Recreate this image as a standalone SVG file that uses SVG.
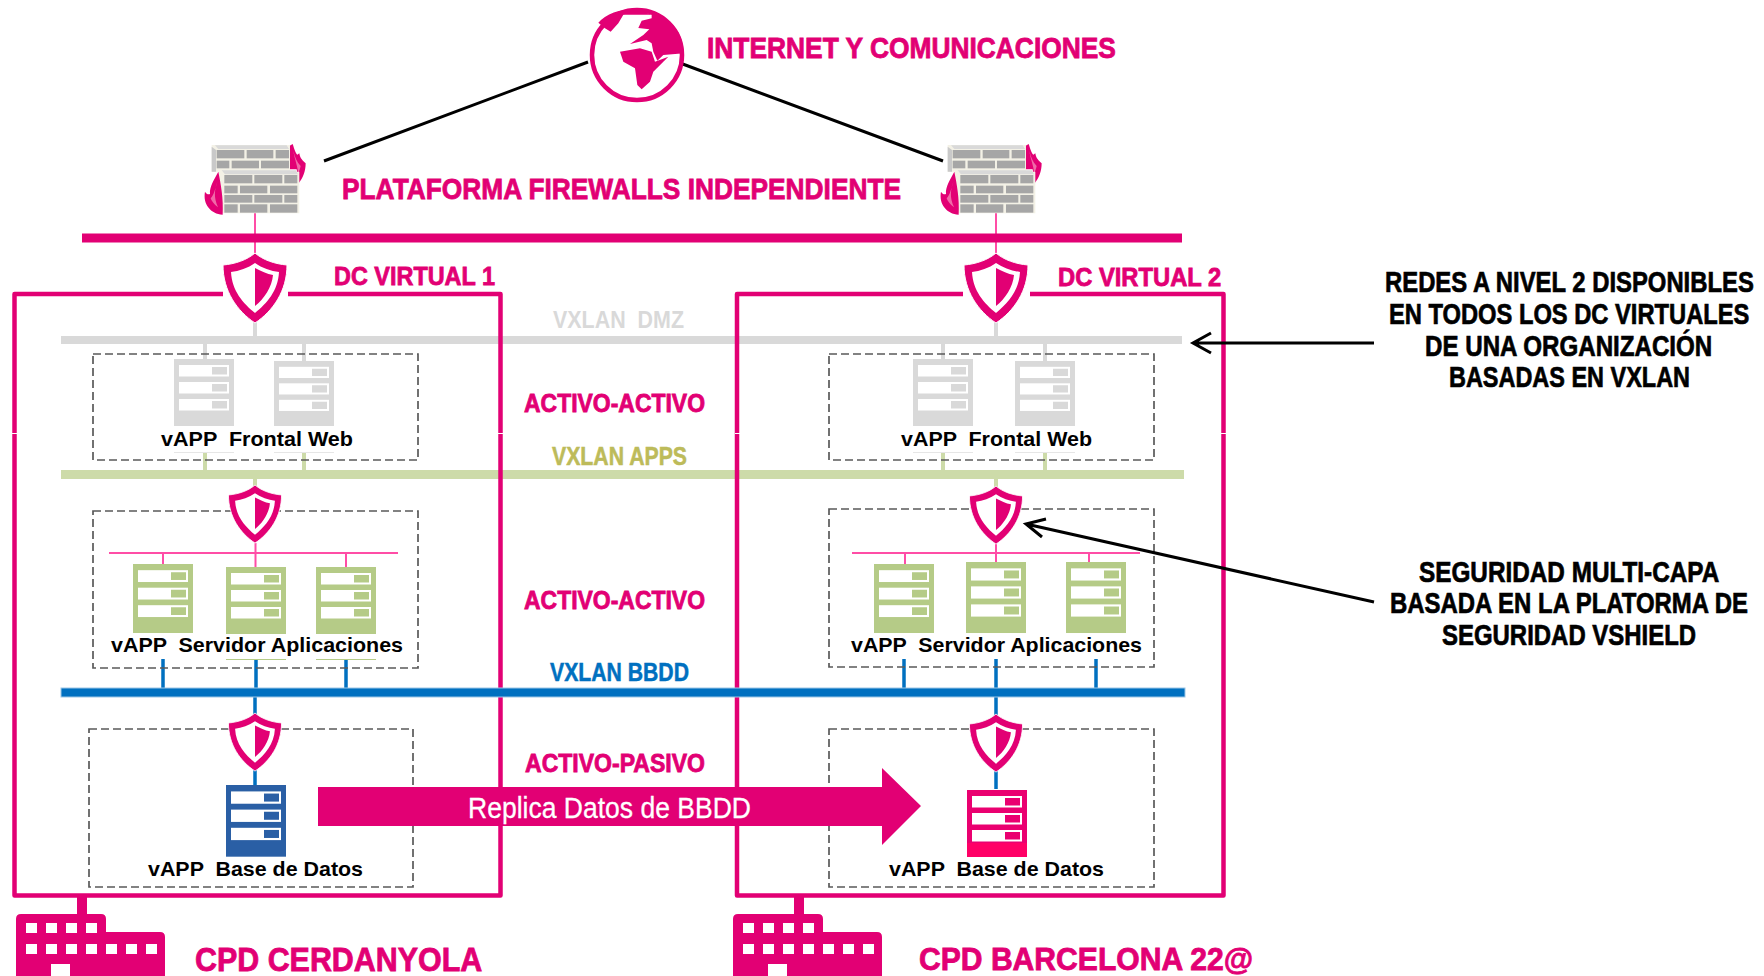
<svg xmlns="http://www.w3.org/2000/svg" width="1764" height="976" viewBox="0 0 1764 976">
<style>
text{font-family:"Liberation Sans",Arial,sans-serif;font-weight:700}
.m{fill:#e20074}
.mt{fill:#e20074;stroke:#e20074;stroke-width:.8}
.k{fill:#000;stroke:#000;stroke-width:.7}
.lab{font-size:21px;fill:#000}
.dash{fill:none;stroke:#595959;stroke-width:1.7;stroke-dasharray:8 4}
.dc{fill:none;stroke:#e20074;stroke-width:4.5;stroke-linejoin:round}
.blk{fill:none;stroke:#000;stroke-width:3}
.pk{stroke:#ff4da6;stroke-width:2;fill:none}
.gy{stroke:#d9d9d9;stroke-width:4;fill:none}
.gr{stroke:#cddba9;stroke-width:4;fill:none}
.bl{stroke:#0070c0;stroke-width:3.5;fill:none}
.br{fill:#a6a6a6}
</style>
<defs>
<g id="shield">
<path fill="#e20074" stroke="#fff" stroke-width="1" d="M0 0C8 7 20 11 32 12C32 38 18 58 0 70C-18 58-32 38-32 12C-20 11-8 7 0 0Z"/>
<path fill="#fff" d="M0 10C7 15 16 18 24 19C23 38 12 50 0 60C-12 50-23 38-24 19C-16 18-7 15 0 10Z"/>
<path fill="#e20074" d="M0 15C6 18 12 21 18 22C17 34 9 46 0 53Z"/>
</g>
<g id="server">
<rect width="60" height="67" fill="currentColor"/>
<g fill="#fff">
<rect x="5" y="6" width="50" height="11.5"/>
<rect x="5" y="23" width="50" height="11.5"/>
<rect x="5" y="40" width="50" height="11.5"/>
</g>
<g fill="currentColor">
<rect x="38" y="8" width="15" height="7.5"/>
<rect x="38" y="25" width="15" height="7.5"/>
<rect x="38" y="42" width="15" height="7.5"/>
</g>
</g>
<g id="fw" transform="scale(.3333)">
<path class="m" d="M298 118V48L308 42C314 60 316 68 322 74L328 70C330 85 338 92 347 100C347 125 338 145 326 160L320 118Z"/>
<path fill="#f06aa8" d="M310 62C314 80 320 95 332 108C330 118 327 125 324 132C324 108 314 90 310 62Z"/>
<path fill="#f3f1e6" d="M65 45H300V125H328V250H85V125H65Z"/>
<path fill="#c9c9c9" d="M65 50L78 60V125H65Z"/>
<path fill="#d9d9d9" d="M75 46H290L297 57H85ZM95 121H318L324 133H105Z"/>
<rect class="br" x="80" y="60" width="83" height="25"/><rect class="br" x="170" y="60" width="80" height="25"/><rect class="br" x="257" y="60" width="40" height="25"/>
<rect class="br" x="80" y="92" width="38" height="23"/><rect class="br" x="125" y="92" width="82" height="23"/><rect class="br" x="213" y="92" width="84" height="23"/>
<rect class="br" x="103" y="135" width="84" height="25"/><rect class="br" x="193" y="135" width="84" height="25"/><rect class="br" x="283" y="135" width="39" height="25"/>
<rect class="br" x="103" y="167" width="40" height="23"/><rect class="br" x="150" y="167" width="82" height="23"/><rect class="br" x="240" y="167" width="82" height="23"/>
<rect class="br" x="103" y="195" width="84" height="23"/><rect class="br" x="193" y="195" width="84" height="23"/><rect class="br" x="283" y="195" width="39" height="23"/>
<rect class="br" x="103" y="223" width="40" height="25"/><rect class="br" x="150" y="223" width="82" height="25"/><rect class="br" x="240" y="223" width="82" height="25"/>
<path class="m" d="M98 254C62 252 38 222 45 185C50 192 54 194 60 192C58 170 72 150 85 125C92 160 101 205 98 254Z"/>
<path fill="#f06aa8" d="M82 155C74 178 70 200 84 232C72 224 64 212 62 205C72 195 76 175 82 155Z"/>
</g>
<g id="building">
<path class="m" d="M77 895H87V914H101Q106 914 106 919V932H160Q165 932 165 937V976H16V919Q16 914 21 914H77Z"/>
<g fill="#fff">
<rect x="26" y="923" width="11" height="10"/><rect x="46" y="923" width="11" height="10"/><rect x="66" y="923" width="11" height="10"/><rect x="86" y="923" width="11" height="10"/>
<rect x="26" y="944" width="11" height="10"/><rect x="46" y="944" width="11" height="10"/><rect x="66" y="944" width="11" height="10"/><rect x="86" y="944" width="11" height="10"/><rect x="106" y="944" width="11" height="10"/><rect x="126" y="944" width="11" height="10"/><rect x="146" y="944" width="11" height="10"/>
<rect x="51" y="964" width="19" height="12"/>
</g>
</g>
</defs>

<g id="connectors">
<path class="blk" d="M324 161L588 62M680 63L943 161"/>
<path class="pk" d="M255 213V255M996 213V255"/>
<rect x="61" y="336" width="1121" height="8" fill="#d9d9d9"/>
<rect x="61" y="470" width="1123" height="9" fill="#cddba9"/>
<path class="gy" d="M255 322V336M996 322V336M205 344V359M304 344V361M943 344V359M1045 344V361"/>
<path class="gr" d="M205 453V470M304 453V470M943 453V470M1045 453V470M255 479V487M996 479V487"/>
<path class="pk" d="M109 553H398M255.500 543V567M163 553V565M346 553V567M852 553H1140M996 543V562M905 553V564M1089 553V562"/>
<path class="bl" d="M163 659V688M256 659V688M346 659V688M904 659V688M996 659V688M1096 659V688"/>
<path class="bl" stroke-width="4" d="M255 697V715M996 697V715M255 770V785M996 771V789"/>
</g>

<g id="dc-virtual-1">
<path class="dc" d="M223 294H14.500V895.500H500.500V294H288"/>
<text class="mt" transform="translate(334 285) scale(.77 1)" font-size="26" textLength="209" lengthAdjust="spacingAndGlyphs">DC VIRTUAL 1</text>
</g>
<g id="dc-virtual-2">
<path class="dc" d="M963 294H737V895.500H1223.500V294H1030"/>
<text class="mt" transform="translate(1058 286) scale(.77 1)" font-size="26" textLength="212" lengthAdjust="spacingAndGlyphs">DC VIRTUAL 2</text>
</g>
<path stroke="#fff" stroke-width="1" d="M12 433.500h5M498 433.500h5M735 433.500h5M1221 433.500h5"/>
<rect id="bus-fw" x="82" y="233.500" width="1100" height="9" fill="#e20074"/>
<rect id="bus-bbdd" x="61" y="688" width="1124" height="9" fill="#0070c0" stroke="#9cc6e6" stroke-width="1"/>

<g id="zones">
<rect class="dash" x="93" y="354" width="325" height="106"/>
<rect class="dash" x="93" y="511" width="325" height="157"/>
<rect class="dash" x="89" y="729" width="324" height="158"/>
<rect class="dash" x="829" y="354" width="325" height="106"/>
<rect class="dash" x="829" y="509" width="325" height="158"/>
<rect class="dash" x="829" y="729" width="325" height="158"/>
</g>

<g id="internet">
<circle cx="637" cy="55" r="45" fill="#fff" stroke="#e20074" stroke-width="4.500"/>
<g transform="translate(540 0) scale(.3333)" class="m">
<path d="M175 68Q210 28 290 26L335 44L250 44L235 70L212 95L195 85Z"/>
<path d="M335 42Q425 62 432 160L370 165L352 182L340 155L335 130L320 120L270 132L310 105L328 88L295 84L305 62L335 55Z"/>
<path d="M240 155L300 145L335 155L345 185L385 170L340 215L330 245L305 268L292 255L285 205L250 185Z"/>
</g>
<text class="mt" transform="translate(707 58) scale(.77 1)" font-size="29" textLength="531" lengthAdjust="spacingAndGlyphs">INTERNET Y COMUNICACIONES</text>
</g>

<g id="firewall-1"><use href="#fw" transform="translate(190 130)"/></g>
<g id="firewall-2"><use href="#fw" transform="translate(926 130)"/></g>
<text class="mt" transform="translate(342 199) scale(.77 1)" font-size="29" textLength="726" lengthAdjust="spacingAndGlyphs">PLATAFORMA FIREWALLS INDEPENDIENTE</text>

<g id="shields">
<use href="#shield" transform="translate(255 253)"/>
<use href="#shield" transform="translate(996 253)"/>
<use href="#shield" transform="translate(255 485) scale(.83)"/>
<use href="#shield" transform="translate(996 486) scale(.83)"/>
<use href="#shield" transform="translate(255 713) scale(.83)"/>
<use href="#shield" transform="translate(996 714) scale(.83)"/>
</g>

<g id="frontal-1" color="#d9d9d9">
<use href="#server" transform="translate(174 359)"/>
<use href="#server" transform="translate(274 361) scale(1 .97)"/>
<path stroke="#e6e6e6" d="M174 452.500h60M274 452.500h60"/>
<text class="lab" x="161" y="446" textLength="192" lengthAdjust="spacingAndGlyphs" xml:space="preserve">vAPP  Frontal Web</text>
</g>
<g id="frontal-2" color="#d9d9d9">
<use href="#server" transform="translate(913 359)"/>
<use href="#server" transform="translate(1015 361) scale(1 .97)"/>
<path stroke="#e6e6e6" d="M913 452.500h60M1015 452.500h60"/>
<text class="lab" x="901" y="446" textLength="191" lengthAdjust="spacingAndGlyphs" xml:space="preserve">vAPP  Frontal Web</text>
</g>
<g id="apps-1" color="#b5cb87">
<use href="#server" transform="translate(133 564) scale(1 1.03)"/>
<use href="#server" transform="translate(226 567)"/>
<use href="#server" transform="translate(316 567)"/>
<path stroke="#b5cb87" d="M226 659.500h60M316 659.500h60"/>
<text class="lab" x="111" y="652" textLength="292" lengthAdjust="spacingAndGlyphs" xml:space="preserve">vAPP  Servidor Aplicaciones</text>
</g>
<g id="apps-2" color="#b5cb87">
<use href="#server" transform="translate(874 564) scale(1 1.03)"/>
<use href="#server" transform="translate(966 562) scale(1 1.06)"/>
<use href="#server" transform="translate(1066 562) scale(1 1.06)"/>
<text class="lab" x="851" y="652" textLength="291" lengthAdjust="spacingAndGlyphs" xml:space="preserve">vAPP  Servidor Aplicaciones</text>
</g>
<g id="db-1" color="#2a5fa5">
<use href="#server" transform="translate(226 785) scale(1 1.07)"/>
<text class="lab" x="148" y="875.500" textLength="215" lengthAdjust="spacingAndGlyphs" xml:space="preserve">vAPP  Base de Datos</text>
</g>
<g id="db-2" color="#ea0070">
<use href="#server" transform="translate(967 790)"/>
<rect x="967" y="843" width="60" height="14" fill="#ff0066"/>
<text class="lab" x="889" y="875.500" textLength="215" lengthAdjust="spacingAndGlyphs" xml:space="preserve">vAPP  Base de Datos</text>
</g>

<g id="zone-labels">
<text fill="#d9d9d9" x="553" y="328" font-size="23" textLength="131" lengthAdjust="spacingAndGlyphs" xml:space="preserve">VXLAN  DMZ</text>
<text class="mt" x="524" y="412" font-size="25" textLength="181" lengthAdjust="spacingAndGlyphs">ACTIVO-ACTIVO</text>
<text fill="#bdbb5a" stroke="#bdbb5a" stroke-width=".5" x="552" y="465" font-size="25" textLength="135" lengthAdjust="spacingAndGlyphs">VXLAN APPS</text>
<text class="mt" x="524" y="609" font-size="25" textLength="181" lengthAdjust="spacingAndGlyphs">ACTIVO-ACTIVO</text>
<text fill="#0070c0" stroke="#0070c0" stroke-width=".5" x="550" y="681" font-size="25" textLength="139" lengthAdjust="spacingAndGlyphs">VXLAN BBDD</text>
<text class="mt" x="525" y="772" font-size="25" textLength="180" lengthAdjust="spacingAndGlyphs">ACTIVO-PASIVO</text>
</g>

<g id="replica">
<path class="m" d="M318 787H882V768L921 806L882 845V826H318Z"/>
<text fill="#fff" stroke="#fff" stroke-width=".3" style="font-weight:400" x="468" y="818" font-size="29" textLength="283" lengthAdjust="spacingAndGlyphs">Replica Datos de BBDD</text>
</g>

<g id="cpd-1"><use href="#building"/>
<text class="mt" transform="translate(195 971) scale(.77 1)" font-size="33" textLength="373" lengthAdjust="spacingAndGlyphs">CPD CERDANYOLA</text></g>
<g id="cpd-2"><use href="#building" transform="translate(717 0)"/>
<text class="mt" transform="translate(919 970) scale(.77 1)" font-size="31" textLength="434" lengthAdjust="spacingAndGlyphs">CPD BARCELONA 22@</text></g>

<g id="note-vxlan">
<path class="blk" d="M1374 343H1193M1211 333L1193 343L1211 353"/>
<text class="k" transform="translate(1385 292) scale(.77 1)" font-size="30" textLength="479" lengthAdjust="spacingAndGlyphs">REDES A NIVEL 2 DISPONIBLES</text>
<text class="k" transform="translate(1389 324) scale(.77 1)" font-size="30" textLength="468" lengthAdjust="spacingAndGlyphs">EN TODOS LOS DC VIRTUALES</text>
<text class="k" transform="translate(1425 355.500) scale(.77 1)" font-size="30" textLength="373" lengthAdjust="spacingAndGlyphs">DE UNA ORGANIZACIÓN</text>
<text class="k" transform="translate(1449 387) scale(.77 1)" font-size="30" textLength="313" lengthAdjust="spacingAndGlyphs">BASADAS EN VXLAN</text>
</g>
<g id="note-vshield">
<path class="blk" d="M1374 602L1026 524M1046 519L1026 524L1042 537"/>
<text class="k" transform="translate(1419 581.500) scale(.77 1)" font-size="30" textLength="390" lengthAdjust="spacingAndGlyphs">SEGURIDAD MULTI-CAPA</text>
<text class="k" transform="translate(1390 612.500) scale(.77 1)" font-size="30" textLength="465" lengthAdjust="spacingAndGlyphs">BASADA EN LA PLATORMA DE</text>
<text class="k" transform="translate(1442 644.500) scale(.77 1)" font-size="30" textLength="330" lengthAdjust="spacingAndGlyphs">SEGURIDAD VSHIELD</text>
</g>
</svg>
